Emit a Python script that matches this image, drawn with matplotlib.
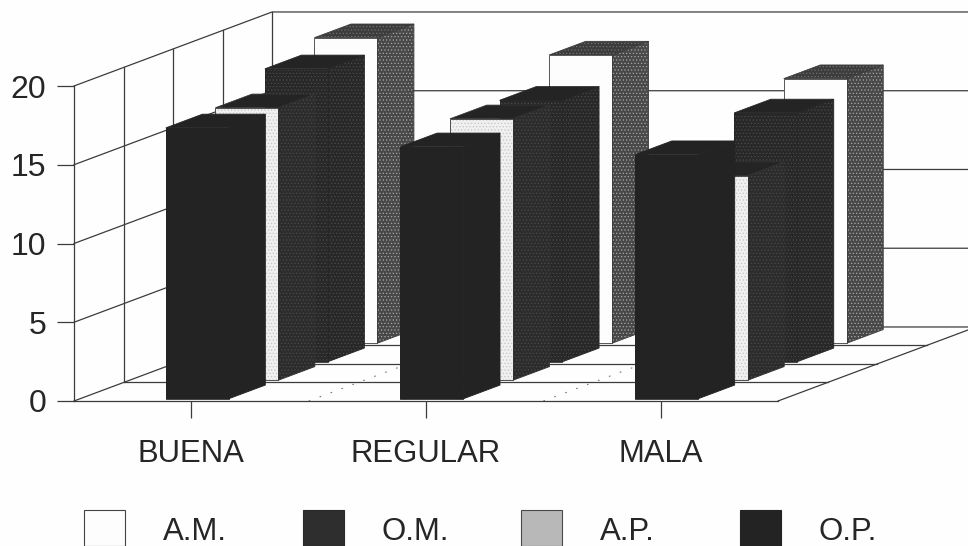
#!/usr/bin/env python3
"""Oblique 3D column chart: BUENA / REGULAR / MALA by A.M., O.M., A.P., O.P."""

import matplotlib
matplotlib.use('Agg')
import matplotlib.pyplot as plt
from matplotlib.patches import Polygon, Rectangle

plt.rcParams['font.family'] = ['Liberation Sans', 'DejaVu Sans']
plt.rcParams['hatch.linewidth'] = 0.5

categories = ['BUENA', 'REGULAR', 'MALA']
series_names = ['A.M.', 'O.M.', 'A.P.', 'O.P.']

# values (series listed back to front)
am_values = [19.4, 18.3, 16.8]
om_values = [18.6, 16.6, 15.8]
ap_values = [17.3, 16.6, 13.0]
op_values = [17.2, 16.0, 15.5]
y_ticks = [0, 5, 10, 15, 20]

# oblique projection: one depth slot moves this far in category / value units
DEPTH_DX = 0.211
DEPTH_DY = 1.175
N_SLOTS = 4
BAR_WIDTH = 0.268
BAR_DEPTH = 0.74
BAR_FRONT = 0.12

LINE = '#3c3c3c'
TEXT = '#262626'
W, H = 968, 546


def pt(cat, val, depth):
    """Project (category, value, depth) on to the flat axes."""
    return (cat + depth * DEPTH_DX, val + depth * DEPTH_DY)


def draw_bar(ax, cat, val, slot, style):
    left = cat + 0.5 - BAR_WIDTH / 2
    right = left + BAR_WIDTH
    d0 = slot + BAR_FRONT
    d1 = d0 + BAR_DEPTH
    faces = [
        ('side', [pt(right, 0, d0), pt(right, 0, d1), pt(right, val, d1), pt(right, val, d0)]),
        ('top', [pt(left, val, d0), pt(right, val, d0), pt(right, val, d1), pt(left, val, d1)]),
        ('front', [pt(left, 0, d0), pt(right, 0, d0), pt(right, val, d0), pt(left, val, d0)]),
    ]
    for name, verts in faces:
        fc, speck = style[name]
        # hatch takes the patch edge colour, so the outline goes on separately
        ax.add_patch(Polygon(verts, closed=True, facecolor=fc, edgecolor=speck or fc,
                             linewidth=0, hatch='.....' if speck else None, clip_on=False))
        ax.add_patch(Polygon(verts, closed=True, fill=False, edgecolor=style['edge'],
                             linewidth=0.6, clip_on=False))


fig = plt.figure(figsize=(W / 100, H / 100), dpi=100, facecolor='#fefefe')
x0, x1 = 74, 778
y0, y20 = 401, 86
ax = fig.add_axes([x0 / W, 1 - y0 / H, (x1 - x0) / W, (y0 - y20) / H])
ax.set_xlim(0, 3)
ax.set_ylim(0, 20)
ax.patch.set_alpha(0)
for s in ['top', 'right']:
    ax.spines[s].set_visible(False)
for s in ['left', 'bottom']:
    ax.spines[s].set_color(LINE)
    ax.spines[s].set_linewidth(0.9)

ax.set_xticks([i + 0.5 for i in range(len(categories))])
ax.set_xticklabels(categories, fontsize=22.4, color=TEXT)
ax.set_yticks(y_ticks)
ax.set_yticklabels([str(v) for v in y_ticks], fontsize=23, color=TEXT)
ax.tick_params(axis='x', length=12, width=0.9, color=LINE, pad=15)
ax.tick_params(axis='y', length=12, width=0.9, color=LINE, pad=8)

# left and back walls
for v in y_ticks:
    xs, ys = zip(pt(0, v, 0), pt(0, v, N_SLOTS), pt(3, v, N_SLOTS))
    ax.plot(xs, ys, color=LINE, lw=0.9, clip_on=False, zorder=1)
for d in range(1, N_SLOTS + 1):
    xs, ys = zip(pt(0, 0, d), pt(0, 20, d))
    ax.plot(xs, ys, color=LINE, lw=0.9, clip_on=False, zorder=1)

# floor
for d in range(1, N_SLOTS):
    xs, ys = zip(pt(0, 0, d), pt(3, 0, d))
    ax.plot(xs, ys, color=LINE, lw=0.9, clip_on=False, zorder=1)
xs, ys = zip(pt(3, 0, 0), pt(3, 0, N_SLOTS))
ax.plot(xs, ys, color=LINE, lw=0.9, clip_on=False, zorder=1)
for c in [1, 2]:
    xs, ys = zip(pt(c, 0, 0), pt(c, 0, N_SLOTS))
    ax.plot(xs, ys, color='#777777', lw=0.8, ls=(0, (1.5, 9)), clip_on=False, zorder=1)

# each face: (fill, speckle colour or None)
styles = {
    'A.M.': {'front': ('#fdfdfd', None), 'side': ('#484848', '#a8a8a8'),
             'top': ('#3c3c3c', '#707070'), 'edge': '#3c3c3c'},
    'O.M.': {'front': ('#282828', '#4a4a4a'), 'side': ('#282828', '#4a4a4a'),
             'top': ('#242424', None), 'edge': '#262626'},
    'A.P.': {'front': ('#f0f0f0', '#c4c4c4'), 'side': ('#2c2c2c', '#4a4a4a'),
             'top': ('#242424', None), 'edge': '#333333'},
    'O.P.': {'front': ('#232323', None), 'side': ('#232323', None),
             'top': ('#232323', None), 'edge': '#232323'},
}

# back to front so nearer columns cover the ones behind
rows = [('A.M.', am_values, 3), ('O.M.', om_values, 2), ('A.P.', ap_values, 1), ('O.P.', op_values, 0)]
for name, values, slot in rows:
    for i, val in enumerate(values):
        draw_bar(ax, i, val, slot, styles[name])

# legend row runs off the bottom of the picture, so it is placed by hand
legend_colors = ['#fdfdfd', '#2e2e2e', '#b8b8b8', '#232323']
legend_edges = ['#444444', '#2a2a2a', '#4a4a4a', '#232323']
for i, name in enumerate(series_names):
    left = 84 + i * 218.5
    fig.add_artist(Rectangle((left / W, 0), 41 / W, 36 / H, transform=fig.transFigure,
                             facecolor=legend_colors[i], edgecolor=legend_edges[i], linewidth=0.8))
    fig.text((left + 79) / W, 1 - 532 / H, name, fontsize=22.4, color=TEXT, ha='left', va='center')

fig.savefig('out.png', dpi=100, facecolor=fig.get_facecolor())
